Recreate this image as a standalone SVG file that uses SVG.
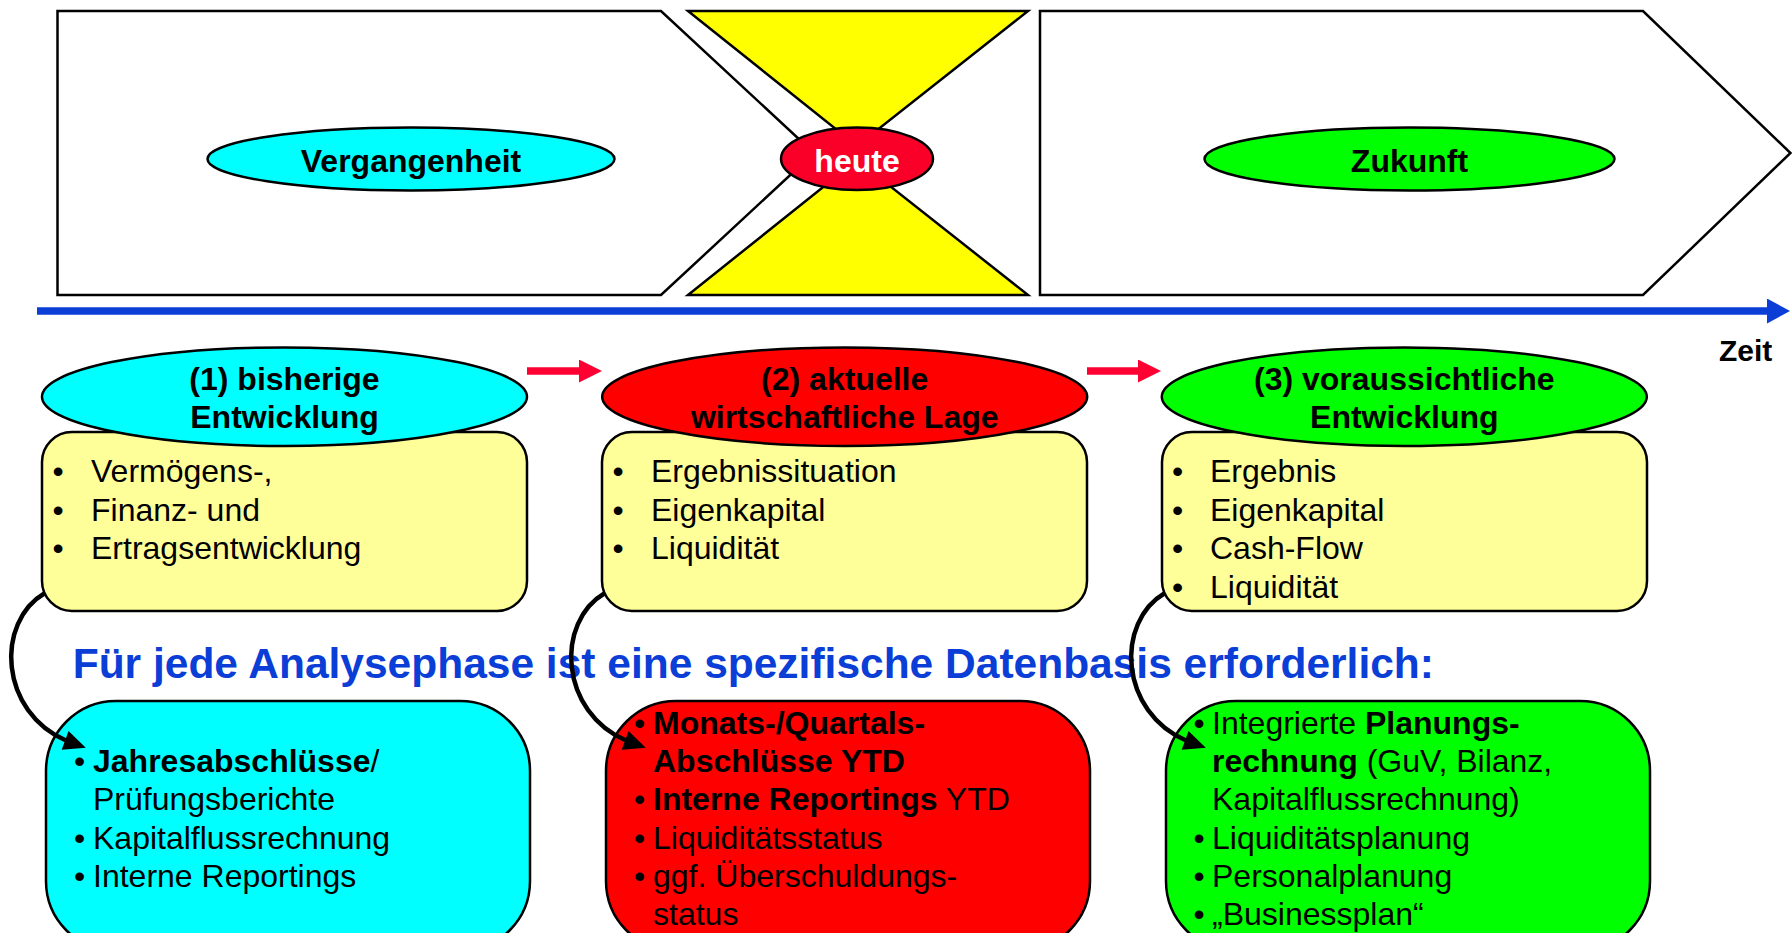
<svg xmlns="http://www.w3.org/2000/svg" width="1792" height="933" viewBox="0 0 1792 933">
<style>
  .ln{stroke:#000;stroke-width:2.5;stroke-linejoin:miter}
  .t{font-family:"Liberation Sans",Arial,Helvetica,sans-serif;fill:#000}
  .b{font-weight:bold}
  .h32{font-size:32px}
  .body{font-size:32px}
  .mid{text-anchor:middle}
  .yb{fill:#ffff99}
  .conn{fill:none;stroke:#000;stroke-width:4.5}
</style>
<defs>
  <marker id="blackHead" markerUnits="userSpaceOnUse" markerWidth="26" markerHeight="24" refX="3" refY="12" orient="20">
    <path d="M1,2 L23,12 L1,22 Z" fill="#000"/>
  </marker>
  <marker id="redHead" markerUnits="userSpaceOnUse" markerWidth="24" markerHeight="24" refX="1" refY="11.5" orient="auto">
    <path d="M0,0 L23,11.5 L0,23 Z" fill="#ff0033"/>
  </marker>
  <marker id="blueHead" markerUnits="userSpaceOnUse" markerWidth="24" markerHeight="26" refX="1" refY="12.5" orient="auto">
    <path d="M0,0 L23,12.5 L0,25 Z" fill="#0a3ed6"/>
  </marker>
</defs>

<g id="vergangenheit">
  <polygon class="ln" fill="#fff" points="57.5,11 661,11 814,153 661,295 57.5,295"/>
  <ellipse class="ln" fill="#00ffff" cx="411" cy="159" rx="203.5" ry="31.5"/>
  <text class="t b h32 mid" x="411" y="171.5">Vergangenheit</text>
</g>

<g id="zukunft">
  <polygon class="ln" fill="#fff" points="1040,11 1643,11 1790.5,153 1643,295 1040,295"/>
  <ellipse class="ln" fill="#00ff00" cx="1409.5" cy="159" rx="205" ry="31.5"/>
  <text class="t b h32 mid" x="1409.5" y="171.5">Zukunft</text>
</g>

<g id="heute">
  <polygon class="ln" fill="#ffff00" points="688,11 1028,11 857,146"/>
  <polygon class="ln" fill="#ffff00" points="688,295 1028,295 857,160"/>
  <ellipse class="ln" fill="#fa0028" cx="857" cy="158.7" rx="76" ry="31.3"/>
  <text class="t b h32 mid" x="857" y="171.5" fill="#fff" style="fill:#fff">heute</text>
</g>

<g id="zeitachse">
  <line x1="37" y1="311" x2="1768" y2="311" stroke="#0a3ed6" stroke-width="7.7" marker-end="url(#blueHead)"/>
  <text class="t b" x="1719" y="360.5" font-size="30">Zeit</text>
</g>

<g id="phase1">
  <rect class="ln yb" x="42" y="432" width="485" height="179" rx="30" ry="30"/>
  <ellipse class="ln" fill="#00ffff" cx="284.5" cy="396.7" rx="242.5" ry="49.3"/>
  <text class="t b h32 mid" x="284.5" y="390">(1) bisherige</text>
  <text class="t b h32 mid" x="284.5" y="428">Entwicklung</text>
  <g class="t body">
    <text x="52.5" y="482">•</text><text x="91" y="482">Vermögens-,</text>
    <text x="52.5" y="520.5">•</text><text x="91" y="520.5">Finanz- und</text>
    <text x="52.5" y="559">•</text><text x="91" y="559">Ertragsentwicklung</text>
  </g>
</g>

<g id="phase2">
  <rect class="ln yb" x="602" y="432" width="485" height="179" rx="30" ry="30"/>
  <ellipse class="ln" fill="#ff0000" cx="844.7" cy="396.7" rx="242.5" ry="49.3"/>
  <text class="t b h32 mid" x="844.7" y="390">(2) aktuelle</text>
  <text class="t b h32 mid" x="844.7" y="428">wirtschaftliche Lage</text>
  <g class="t body">
    <text x="612.5" y="482">•</text><text x="651" y="482">Ergebnissituation</text>
    <text x="612.5" y="520.5">•</text><text x="651" y="520.5">Eigenkapital</text>
    <text x="612.5" y="559">•</text><text x="651" y="559">Liquidität</text>
  </g>
</g>

<g id="phase3">
  <rect class="ln yb" x="1162" y="432" width="485" height="179" rx="30" ry="30"/>
  <ellipse class="ln" fill="#00ff00" cx="1404.3" cy="396.7" rx="242.5" ry="49.3"/>
  <text class="t b h32 mid" x="1404.3" y="390">(3) voraussichtliche</text>
  <text class="t b h32 mid" x="1404.3" y="428">Entwicklung</text>
  <g class="t body">
    <text x="1172" y="482">•</text><text x="1210" y="482">Ergebnis</text>
    <text x="1172" y="520.5">•</text><text x="1210" y="520.5">Eigenkapital</text>
    <text x="1172" y="559">•</text><text x="1210" y="559">Cash-Flow</text>
    <text x="1172" y="597.5">•</text><text x="1210" y="597.5">Liquidität</text>
  </g>
</g>

<g id="hinweis">
  <text class="t b" x="72.7" y="677.5" font-size="42.5" style="fill:#0a3ed6">Für jede Analysephase ist eine spezifische Datenbasis erforderlich:</text>
</g>

<g id="daten1">
  <rect class="ln" fill="#00ffff" x="46" y="701" width="484" height="250" rx="70" ry="70"/>
  <g class="t body">
    <text x="74" y="772">•</text><text x="93" y="772"><tspan font-weight="bold">Jahresabschlüsse</tspan>/</text>
    <text x="93" y="810.3">Prüfungsberichte</text>
    <text x="74" y="848.6">•</text><text x="93" y="848.6">Kapitalflussrechnung</text>
    <text x="74" y="887">•</text><text x="93" y="887">Interne Reportings</text>
  </g>
</g>

<g id="daten2">
  <rect class="ln" fill="#ff0000" x="606" y="701" width="484" height="250" rx="70" ry="70"/>
  <g class="t body">
    <text x="634" y="733.6">•</text><text x="653" y="733.6" font-weight="bold">Monats-/Quartals-</text>
    <text x="653" y="772" font-weight="bold">Abschlüsse YTD</text>
    <text x="634" y="810.3">•</text><text x="653" y="810.3"><tspan font-weight="bold">Interne Reportings</tspan> YTD</text>
    <text x="634" y="848.6">•</text><text x="653" y="848.6">Liquiditätsstatus</text>
    <text x="634" y="887">•</text><text x="653" y="887">ggf. Überschuldungs-</text>
    <text x="653" y="925.3">status</text>
  </g>
</g>

<g id="daten3">
  <rect class="ln" fill="#00ff00" x="1166" y="701" width="484" height="250" rx="70" ry="70"/>
  <g class="t body">
    <text x="1193.5" y="733.6">•</text><text x="1212" y="733.6">Integrierte <tspan font-weight="bold">Planungs-</tspan></text>
    <text x="1212" y="772"><tspan font-weight="bold">rechnung</tspan> (GuV, Bilanz,</text>
    <text x="1212" y="810.3">Kapitalflussrechnung)</text>
    <text x="1193.5" y="848.6">•</text><text x="1212" y="848.6">Liquiditätsplanung</text>
    <text x="1193.5" y="887">•</text><text x="1212" y="887">Personalplanung</text>
    <text x="1193.5" y="925.3">•</text><text x="1212" y="925.3">„Businessplan“</text>
  </g>
</g>

<g id="connectors">
  <line x1="527" y1="371" x2="580" y2="371" stroke="#ff0033" stroke-width="7.7" marker-end="url(#redHead)"/>
  <line x1="1087" y1="371" x2="1139" y2="371" stroke="#ff0033" stroke-width="7.7" marker-end="url(#redHead)"/>
  <path class="conn" d="M45,593 C-5,622 -1,712 67,741" marker-end="url(#blackHead)"/>
  <path class="conn" d="M605,593 C555,622 559,712 627,741" marker-end="url(#blackHead)"/>
  <path class="conn" d="M1165,593 C1115,622 1119,712 1187,741" marker-end="url(#blackHead)"/>
</g>
</svg>
